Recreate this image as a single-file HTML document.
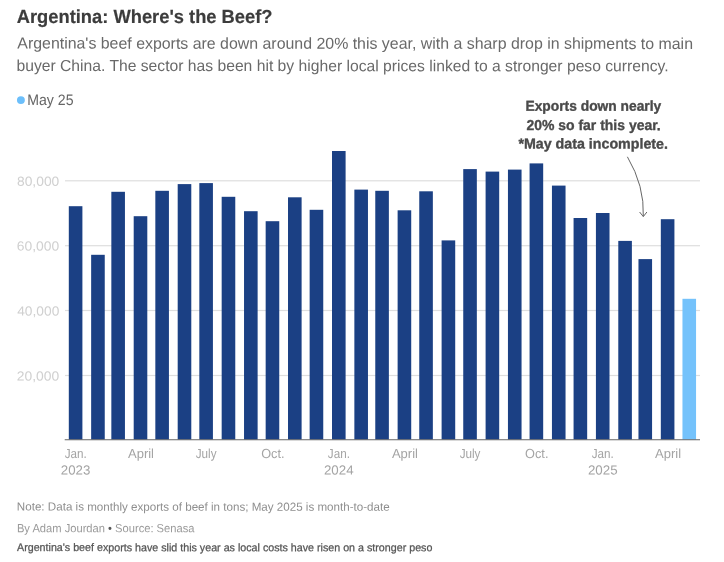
<!DOCTYPE html>
<html lang="en"><head><meta charset="utf-8"><title>Argentina: Where's the Beef?</title>
<style>
html,body{margin:0;padding:0;background:#fff;}
body{width:724px;height:562px;overflow:hidden;}
svg{display:block;font-family:"Liberation Sans", sans-serif;}
</style></head>
<body>
<svg width="724" height="562" viewBox="0 0 724 562">
<rect width="724" height="562" fill="#fff"/>
<g class="header">
<text x="16.73" y="23.00" transform="rotate(0.03 144.63 23.00)" font-size="19" font-weight="bold" stroke="#3c3c3c" stroke-width="0.2" fill="#3c3c3c" textLength="255.80" lengthAdjust="spacingAndGlyphs">Argentina: Where's the Beef?</text>
<text x="17.30" y="48.75" transform="rotate(0.03 355.15 48.75)" font-size="15.9" fill="#696969" textLength="675.69" lengthAdjust="spacingAndGlyphs">Argentina's beef exports are down around 20% this year, with a sharp drop in shipments to main</text>
<text x="16.46" y="71.15" transform="rotate(0.03 342.52 71.15)" font-size="15.9" fill="#696969" textLength="652.12" lengthAdjust="spacingAndGlyphs">buyer China. The sector has been hit by higher local prices linked to a stronger peso currency.</text>
</g>
<g class="legend">
<circle cx="20.9" cy="100.1" r="3.95" fill="#6cbffb"/>
<text x="27.27" y="105.00" transform="rotate(0.03 50.39 105.00)" font-size="15.2" fill="#666" textLength="46.24" lengthAdjust="spacingAndGlyphs">May 25</text>
</g>
<g class="grid">
<rect x="65" y="180.20" width="635" height="1.2" fill="#dedede"/>
<rect x="65" y="245.10" width="635" height="1.2" fill="#dedede"/>
<rect x="65" y="309.90" width="635" height="1.2" fill="#dedede"/>
<rect x="65" y="374.90" width="635" height="1.2" fill="#dedede"/>
</g>
<g class="ylabels">
<text x="16.95" y="185.70" transform="rotate(0.03 38.12 185.70)" font-size="13.1" fill="#d0d0d0" textLength="42.35" lengthAdjust="spacingAndGlyphs">80,000</text>
<text x="16.81" y="250.60" transform="rotate(0.03 38.05 250.60)" font-size="13.1" fill="#d0d0d0" textLength="42.50" lengthAdjust="spacingAndGlyphs">60,000</text>
<text x="17.22" y="315.40" transform="rotate(0.03 38.26 315.40)" font-size="13.1" fill="#d0d0d0" textLength="42.07" lengthAdjust="spacingAndGlyphs">40,000</text>
<text x="16.81" y="380.40" transform="rotate(0.03 38.05 380.40)" font-size="13.1" fill="#d0d0d0" textLength="42.50" lengthAdjust="spacingAndGlyphs">20,000</text>
</g>
<g class="bars">
<rect x="68.80" y="206.20" width="13.6" height="233.40" fill="#1b4084"/>
<rect x="91.15" y="254.80" width="13.6" height="184.80" fill="#1b4084"/>
<rect x="111.34" y="191.80" width="13.6" height="247.80" fill="#1b4084"/>
<rect x="133.70" y="216.20" width="13.6" height="223.40" fill="#1b4084"/>
<rect x="155.33" y="190.80" width="13.6" height="248.80" fill="#1b4084"/>
<rect x="177.69" y="184.10" width="13.6" height="255.50" fill="#1b4084"/>
<rect x="199.32" y="183.10" width="13.6" height="256.50" fill="#1b4084"/>
<rect x="221.67" y="196.80" width="13.6" height="242.80" fill="#1b4084"/>
<rect x="244.03" y="211.20" width="13.6" height="228.40" fill="#1b4084"/>
<rect x="265.66" y="221.20" width="13.6" height="218.40" fill="#1b4084"/>
<rect x="288.01" y="197.30" width="13.6" height="242.30" fill="#1b4084"/>
<rect x="309.65" y="209.80" width="13.6" height="229.80" fill="#1b4084"/>
<rect x="332.00" y="151.00" width="13.6" height="288.60" fill="#1b4084"/>
<rect x="354.36" y="189.60" width="13.6" height="250.00" fill="#1b4084"/>
<rect x="375.27" y="190.80" width="13.6" height="248.80" fill="#1b4084"/>
<rect x="397.62" y="210.30" width="13.6" height="229.30" fill="#1b4084"/>
<rect x="419.25" y="191.30" width="13.6" height="248.30" fill="#1b4084"/>
<rect x="441.61" y="240.40" width="13.6" height="199.20" fill="#1b4084"/>
<rect x="463.24" y="169.10" width="13.6" height="270.50" fill="#1b4084"/>
<rect x="485.60" y="171.60" width="13.6" height="268.00" fill="#1b4084"/>
<rect x="507.95" y="169.60" width="13.6" height="270.00" fill="#1b4084"/>
<rect x="529.58" y="163.40" width="13.6" height="276.20" fill="#1b4084"/>
<rect x="551.94" y="185.60" width="13.6" height="254.00" fill="#1b4084"/>
<rect x="573.57" y="218.00" width="13.6" height="221.60" fill="#1b4084"/>
<rect x="595.92" y="213.00" width="13.6" height="226.60" fill="#1b4084"/>
<rect x="618.28" y="240.90" width="13.6" height="198.70" fill="#1b4084"/>
<rect x="638.47" y="259.10" width="13.6" height="180.50" fill="#1b4084"/>
<rect x="660.82" y="219.20" width="13.6" height="220.40" fill="#1b4084"/>
<rect x="682.46" y="298.80" width="13.6" height="140.80" fill="#74c2fb"/>
</g>
<rect class="baseline" x="64.7" y="439.25" width="635.3" height="1" fill="#666"/>
<g class="xlabels">
<text x="64.63" y="458.00" transform="rotate(0.03 75.65 458.00)" font-size="13.1" fill="#a4a4a4" textLength="22.04" lengthAdjust="spacingAndGlyphs">Jan.</text>
<text x="60.84" y="474.60" transform="rotate(0.03 75.61 474.60)" font-size="13.1" fill="#a4a4a4" textLength="29.54" lengthAdjust="spacingAndGlyphs">2023</text>
<text x="128.00" y="458.00" transform="rotate(0.03 141.00 458.00)" font-size="13.1" fill="#a4a4a4" textLength="26.01" lengthAdjust="spacingAndGlyphs">April</text>
<text x="195.75" y="458.00" transform="rotate(0.03 206.16 458.00)" font-size="13.1" fill="#a4a4a4" textLength="20.82" lengthAdjust="spacingAndGlyphs">July</text>
<text x="261.20" y="458.00" transform="rotate(0.03 272.86 458.00)" font-size="13.1" fill="#a4a4a4" textLength="23.33" lengthAdjust="spacingAndGlyphs">Oct.</text>
<text x="327.83" y="458.00" transform="rotate(0.03 338.86 458.00)" font-size="13.1" fill="#a4a4a4" textLength="22.04" lengthAdjust="spacingAndGlyphs">Jan.</text>
<text x="323.94" y="474.60" transform="rotate(0.03 338.74 474.60)" font-size="13.1" fill="#a4a4a4" textLength="29.61" lengthAdjust="spacingAndGlyphs">2024</text>
<text x="391.92" y="458.00" transform="rotate(0.03 404.93 458.00)" font-size="13.1" fill="#a4a4a4" textLength="26.01" lengthAdjust="spacingAndGlyphs">April</text>
<text x="459.67" y="458.00" transform="rotate(0.03 470.08 458.00)" font-size="13.1" fill="#a4a4a4" textLength="20.82" lengthAdjust="spacingAndGlyphs">July</text>
<text x="525.12" y="458.00" transform="rotate(0.03 536.79 458.00)" font-size="13.1" fill="#a4a4a4" textLength="23.33" lengthAdjust="spacingAndGlyphs">Oct.</text>
<text x="591.76" y="458.00" transform="rotate(0.03 602.78 458.00)" font-size="13.1" fill="#a4a4a4" textLength="22.04" lengthAdjust="spacingAndGlyphs">Jan.</text>
<text x="587.91" y="474.60" transform="rotate(0.03 602.73 474.60)" font-size="13.1" fill="#a4a4a4" textLength="29.65" lengthAdjust="spacingAndGlyphs">2025</text>
<text x="655.12" y="458.00" transform="rotate(0.03 668.13 458.00)" font-size="13.1" fill="#a4a4a4" textLength="26.01" lengthAdjust="spacingAndGlyphs">April</text>
</g>
<g class="annotation">
<text x="525.47" y="110.80" transform="rotate(0.03 593.36 110.80)" font-size="14.4" font-weight="bold" stroke="#4a4a4a" stroke-width="0.35" fill="#4a4a4a" textLength="135.78" lengthAdjust="spacingAndGlyphs">Exports down nearly</text>
<text x="526.38" y="130.10" transform="rotate(0.03 593.56 130.10)" font-size="14.4" font-weight="bold" stroke="#4a4a4a" stroke-width="0.35" fill="#4a4a4a" textLength="134.37" lengthAdjust="spacingAndGlyphs">20% so far this year.</text>
<text x="518.40" y="148.60" transform="rotate(0.03 593.18 148.60)" font-size="14.4" font-weight="bold" stroke="#4a4a4a" stroke-width="0.35" fill="#4a4a4a" textLength="149.57" lengthAdjust="spacingAndGlyphs">*May data incomplete.</text>
<g fill="none" stroke="#666" stroke-width="1">
<path d="M627.4 156.8 Q644.6 186 643.3 216.4"/>
<path d="M639.6 212 L643.3 216.6 L646.9 212"/>
</g>
</g>
<g class="footer">
<text x="16.87" y="510.70" transform="rotate(0.03 203.30 510.70)" font-size="11.7" fill="#8e8e8e" textLength="372.85" lengthAdjust="spacingAndGlyphs">Note: Data is monthly exports of beef in tons; May 2025 is month-to-date</text>
<text x="16.91" y="532.30" transform="rotate(0.03 105.68 532.30)" font-size="11.9" fill="#9a9a9a" textLength="177.55" lengthAdjust="spacingAndGlyphs">By Adam Jourdan <tspan fill="#555">•</tspan> Source: Senasa</text>
<text x="17.00" y="551.20" transform="rotate(0.03 224.69 551.20)" font-size="11" stroke="#555" stroke-width="0.25" fill="#555" textLength="415.39" lengthAdjust="spacingAndGlyphs">Argentina's beef exports have slid this year as local costs have risen on a stronger peso</text>
</g>
</svg>
</body></html>
